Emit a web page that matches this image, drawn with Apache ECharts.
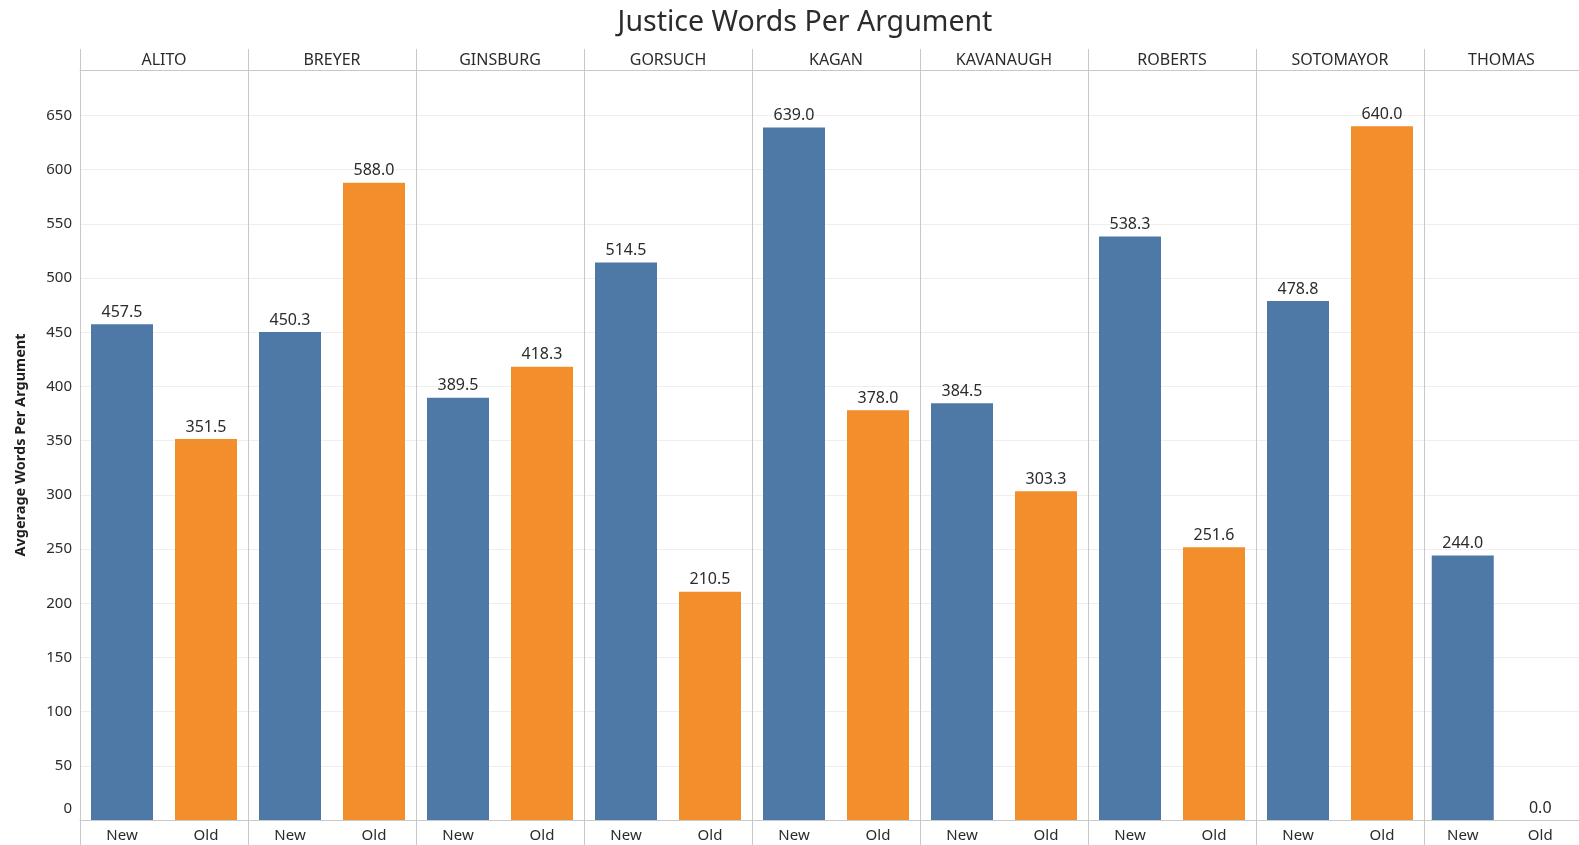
<!DOCTYPE html>
<html>
<head>
<meta charset="utf-8">
<title>Justice Words Per Argument</title>
<script src="https://cdn.jsdelivr.net/npm/echarts@6/dist/echarts.min.js"></script>
<style>
  html, body { margin: 0; padding: 0; background: #ffffff; }
  #chart { width: 1579px; height: 845px; }
</style>
</head>
<body>
<div id="chart"></div>
<script>
// Justices (one panel each) and argument type within a panel
const justices = ['ALITO', 'BREYER', 'GINSBURG', 'GORSUCH', 'KAGAN', 'KAVANAUGH', 'ROBERTS', 'SOTOMAYOR', 'THOMAS'];
const argTypes = ['New', 'Old'];

// Average words per argument
const newWords = [457.5, 450.3, 389.5, 514.5, 639.0, 384.5, 538.3, 478.8, 244.0];
const oldWords = [351.5, 588.0, 418.3, 210.5, 378.0, 303.3, 251.6, 640.0, 0.0];

const typeColors = ['#4e79a7', '#f28e2b'];

// Panel layout
const FONT = '"Noto Sans", "Open Sans", sans-serif';
const TEXT = '#2b2b2b';
const PLOT_LEFT = 80;
const PANEL_W = 168;
const PLOT_TOP = 70;
const PLOT_BOTTOM = 820;
const HEADER_TOP = 49;
const CANVAS_H = 845;
const Y_MAX = 692;

const grids = [], xAxes = [], yAxes = [], series = [], graphics = [];

justices.forEach((name, i) => {
  grids.push({
    left: PLOT_LEFT + i * PANEL_W,
    width: PANEL_W,
    top: PLOT_TOP,
    height: PLOT_BOTTOM - PLOT_TOP,
    containLabel: false
  });

  // bottom category axis: New / Old
  xAxes.push({
    type: 'category',
    gridIndex: i,
    data: argTypes,
    position: 'bottom',
    axisLine: { show: true, lineStyle: { color: '#c8c8c8', width: 1 } },
    axisTick: { show: false },
    axisLabel: { color: TEXT, fontSize: 15, fontFamily: FONT, margin: 8 },
    splitLine: { show: false }
  });
  // top axis carrying the panel header
  xAxes.push({
    type: 'category',
    gridIndex: i,
    data: [name],
    position: 'top',
    axisLine: { show: true, lineStyle: { color: '#c8c8c8', width: 1 } },
    axisTick: { show: false },
    axisLabel: { color: TEXT, fontSize: 16, fontFamily: FONT, margin: 2 },
    splitLine: { show: false }
  });

  yAxes.push({
    type: 'value',
    gridIndex: i,
    min: 0,
    max: Y_MAX,
    interval: 50,
    name: i === 0 ? 'Avgerage Words Per Argument' : '',
    nameLocation: 'middle',
    nameGap: 52,
    nameTextStyle: { color: '#1e1e1e', fontSize: 14.5, fontWeight: 'bold', fontFamily: FONT },
    axisLine: { show: false },
    axisTick: { show: false },
    axisLabel: {
      show: i === 0,
      showMaxLabel: false,
      color: TEXT,
      fontSize: 15,
      fontFamily: FONT,
      margin: 8,
      formatter: v => (v === 0 ? '{z|0}' : String(v)),
      rich: { z: { color: TEXT, fontSize: 15, fontFamily: FONT, padding: [0, 0, 22, 0] } }
    },
    splitLine: { show: true, lineStyle: { color: '#efefef', width: 1 } }
  });

  series.push({
    type: 'bar',
    xAxisIndex: i * 2,
    yAxisIndex: i,
    barWidth: 62,
    data: [
      { value: newWords[i], itemStyle: { color: typeColors[0] } },
      { value: oldWords[i], itemStyle: { color: typeColors[1] } }
    ],
    label: {
      show: true,
      position: 'top',
      distance: 4,
      color: TEXT,
      fontSize: 16,
      fontFamily: FONT,
      formatter: p => Number(p.value).toFixed(1)
    },
    emphasis: { disabled: true },
    animation: false
  });

  // panel divider running from the header down to the bottom edge
  const x = PLOT_LEFT + i * PANEL_W + 0.5;
  graphics.push({
    type: 'line',
    silent: true,
    z: 10,
    shape: { x1: x, y1: HEADER_TOP, x2: x, y2: CANVAS_H },
    style: { stroke: '#c8c8c8', lineWidth: 1 }
  });
});

const chart = echarts.init(document.getElementById('chart'), null, { renderer: 'canvas' });
chart.setOption({
  backgroundColor: '#ffffff',
  animation: false,
  title: {
    text: 'Justice Words Per Argument',
    left: 800,
    top: 3,
    textAlign: 'center',
    textStyle: { color: TEXT, fontSize: 28.5, fontWeight: 'normal', fontFamily: FONT }
  },
  grid: grids,
  xAxis: xAxes,
  yAxis: yAxes,
  series: series,
  graphic: graphics
});
</script>
</body>
</html>
